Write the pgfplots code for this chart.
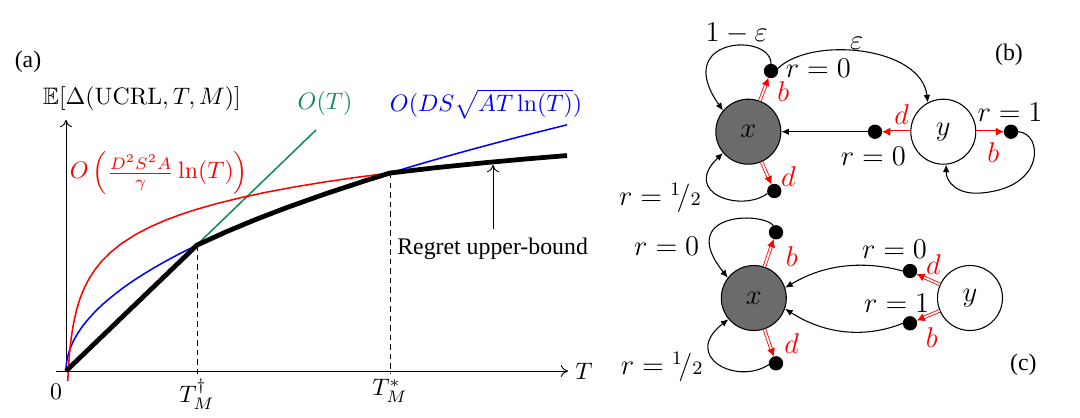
\documentclass[border=0pt]{standalone}
\usepackage{pgfplots}
\pgfplotsset{compat=1.18}
\usepackage{amssymb}
\usepackage[no-math]{fontspec}
\setmainfont{Liberation Serif}
\usetikzlibrary{arrows.meta}
\definecolor{mygreen}{RGB}{20,140,90}
\tikzset{
  dlab/.style={font=\fontsize{11.5}{13}\selectfont, inner sep=0pt},
  dn/.style={circle, inner sep=0pt, minimum size=5.6pt},
  bigc/.style={circle, draw, line width=0.45pt, minimum size=27.3pt, inner sep=0pt, font=\fontsize{11.5}{13}\selectfont},
  barr/.style={line width=0.45pt, -{Latex[length=3.2pt,width=2.8pt]}},
}
\newcommand{\rarr}[2]{%
  \draw[red, line width=0.35pt, double=white, double distance=0.75pt, shorten >=2.8pt] (#1) -- (#2);
  \path (#1) -- (#2) coordinate[pos=0.8] (tmpA);
  \draw[red, line width=0.3pt, -{Latex[length=3.4pt,width=3.4pt]}] (tmpA) -- (#2);
}
\begin{document}
\begin{tikzpicture}
\begin{axis}[
  scale only axis,
  width=215.04pt, height=105.42pt,
  xmin=-10, xmax=502, ymin=0, ymax=251,
  axis lines=middle,
  axis line style={line width=0.4pt, -{To[length=3pt,width=5pt]}},
  xtick={131,324}, xticklabels={$T_M^{\dagger}$,$T_M^{*}$},
  ytick=\empty,
  major tick length=0pt,
  clip=false,
  xlabel={$T$}, ylabel={$\mathbb{E}[\Delta(\mathrm{UCRL},T,M)]$},
  xlabel style={at={(axis description cs:1.031,0)},anchor=center},
  ylabel style={at={(axis description cs:0.168,1.084)},anchor=center},
]
% bounding box of whole figure
\path (axis cs:-66,-39) rectangle (axis cs:1014,371);

% O(T)
\addplot[mygreen, line width=0.65pt] coordinates {(0,0) (250,241)};
% sqrt curve
\addplot[blue, line width=0.65pt, smooth] coordinates {
(0,0) (0.25,5.5) (1,11) (2,15.56) (4,22) (7,29.1) (10,34.79) (15,42.6) (20,49.19)
(30,60.25) (40,69.57) (55,81.58) (70,92.03) (90,104.35) (110,115.37) (131,125.9)
(160,139.14) (190,151.62) (220,163.15) (260,177.37) (300,190.53) (324,198)
(360,208.71) (400,220) (450,233.35) (501,246.21)};
% log curve
\addplot[red, line width=0.65pt, line join=round] coordinates {
(1.79,-10) (2,-5.48) (2.5,3.45) (3,10.74) (4,22.25) (5,31.18) (6.5,41.67) (8.5,52.4)
(11,62.72) (14,72.36) (18,82.41) (23,92.22) (29,101.49) (36,110.14) (45,119.07)
(56,127.82) (70,136.74) (85,144.51) (100,151.01) (115,156.6) (131,161.81)
(150,167.22) (175,173.39) (200,178.73) (230,184.32) (260,189.23) (290,193.6)
(324,198.03) (370,203.34) (420,208.41) (460,212.05) (501,215.46)};
% regret upper bound
\addplot[black, line width=2pt, line join=round] coordinates {
(0,0) (131,125.9) (160,139.14) (190,151.62) (220,163.15) (260,177.37) (300,190.53)
(324,198) (370,203.34) (420,208.41) (460,212.05) (501,215.46)};

\draw[line width=0.4pt, dash pattern=on 2.3pt off 1.7pt] (axis cs:131,125.9) -- (axis cs:131,-3);
\draw[line width=0.4pt, dash pattern=on 2.3pt off 1.7pt] (axis cs:324,198) -- (axis cs:324,-3);

\node at (axis cs:-10,-21) {$0$};
\node at (axis cs:-38,309) {(a)};
\node[mygreen] at (axis cs:259,267) {$O(T)$};
\node[blue] at (axis cs:420,267) {$O(DS\sqrt{AT\ln(T)})$};
\node[red] at (axis cs:93,198) {$O\left(\frac{D^2S^2A}{\gamma}\ln(T)\right)$};
\node at (axis cs:426.6,122) {Regret upper-bound};
\draw[line width=0.4pt, -{To[length=3pt,width=5pt]}] (axis cs:427,142) -- (axis cs:427,206);

% ---------------- panel (b) ----------------
\node[bigc, fill=black!58] (xb) at (axis cs:682.3,239.3) {$x$};
\node[bigc, fill=white] (yb) at (axis cs:877.3,239.3) {$y$};
\node[dn] (b1) at (axis cs:705,300) {};
\node[dn] (d1) at (axis cs:708.3,180) {};
\node[dn] (dL) at (axis cs:809,239.3) {};
\node[dn] (dR) at (axis cs:945,239.3) {};
\addplot[only marks, mark=*, mark size=2.8pt, black] coordinates {
(705,300) (708.3,180) (809,239.3) (945,239.3)};
\rarr{xb}{b1}
\rarr{xb}{d1}
\rarr{yb}{dL}
\rarr{yb}{dR}
\draw[barr] (dL) -- (xb);
\draw[barr] (b1.north) .. controls (axis cs:705,339) and (axis cs:605,334) .. (xb.140);
\draw[barr] (b1.20) .. controls (axis cs:745,335) and (axis cs:855,325) .. (yb.118);
\draw[barr] (d1.200) .. controls (axis cs:675,158) and (axis cs:615,178) .. (xb.220);
\draw[barr] (dR.east) .. controls (axis cs:977,238) and (axis cs:980,183) .. (axis cs:915,178)
   .. controls (axis cs:890,176) and (axis cs:880,190) .. (yb.-85);
\node[dlab] at (axis cs:670.7,338) {$1-\varepsilon$};
\node[dlab] at (axis cs:790.7,328) {$\varepsilon$};
\node[dlab] at (axis cs:752.3,303) {$r=0$};
\node[dlab, red] at (axis cs:717.3,279) {$b$};
\node at (axis cs:943,316) {(b)};
\node[dlab, red] at (axis cs:835.7,256) {$d$};
\node[dlab] at (axis cs:944,259) {$r=1$};
\node[dlab] at (axis cs:807.3,215) {$r=0$};
\node[dlab, red] at (axis cs:927.3,218) {$b$};
\node[dlab, red] at (axis cs:722.3,194.3) {$d$};
\node[dlab] at (axis cs:594,173) {$r={}^{1}\!/{\scriptstyle 2}$};

% ---------------- panel (c) ----------------
\node[bigc, fill=black!58] (xc) at (axis cs:687.8,73) {$x$};
\node[bigc, fill=white] (yc) at (axis cs:904,73) {$y$};
\node[dn] (t1) at (axis cs:710,138.7) {};
\node[dn] (t2) at (axis cs:710,7.7) {};
\node[dn] (du) at (axis cs:844,100) {};
\node[dn] (dl) at (axis cs:844,47.7) {};
\addplot[only marks, mark=*, mark size=2.8pt, black] coordinates {
(710,138.7) (710,7.7) (844,100) (844,47.7)};
\rarr{xc}{t1}
\rarr{xc}{t2}
\rarr{yc}{du}
\rarr{yc}{dl}
\draw[barr] (t1.110) .. controls (axis cs:695,160) and (axis cs:610,158) .. (xc.142);
\draw[barr] (t2.190) .. controls (axis cs:670,-15) and (axis cs:615,15) .. (xc.220);
\draw[barr] (du.west) .. controls (axis cs:800,110) and (axis cs:760,108) .. (xc.18);
\draw[barr] (dl.west) .. controls (axis cs:800,33) and (axis cs:760,36) .. (xc.-19);
\node[dlab] at (axis cs:600.7,124.3) {$r=0$};
\node[dlab, red] at (axis cs:725.7,114.3) {$b$};
\node[dlab] at (axis cs:828.5,121.5) {$r=0$};
\node[dlab, red] at (axis cs:867.5,106.5) {$d$};
\node[dlab] at (axis cs:830.7,67.7) {$r=1$};
\node[dlab, red] at (axis cs:865.7,33.7) {$b$};
\node[dlab, red] at (axis cs:725.7,27) {$d$};
\node[dlab] at (axis cs:595.7,4.3) {$r={}^{1}\!/{\scriptstyle 2}$};
\node at (axis cs:957.3,6) {(c)};
\end{axis}
\end{tikzpicture}
\end{document}
